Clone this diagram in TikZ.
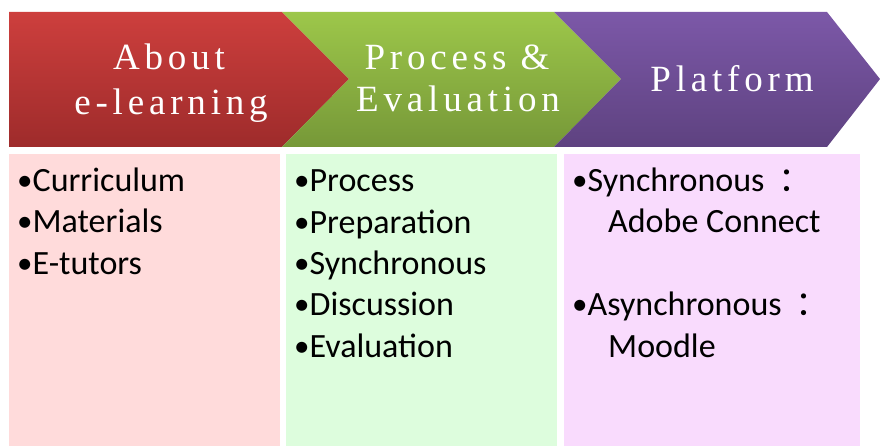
\documentclass[tikz,border=0pt]{standalone}
\usepackage{fontspec}
\setmainfont{Carlito}
\newfontfamily\headfont[LetterSpace=13]{Liberation Serif}
\newfontfamily\cjk{Noto Sans CJK SC}
\usetikzlibrary{positioning}
\definecolor{redtop}{RGB}{205,63,61}
\definecolor{redbot}{RGB}{158,43,43}
\definecolor{greentop}{RGB}{157,199,74}
\definecolor{greenbot}{RGB}{118,152,56}
\definecolor{purpletop}{RGB}{124,88,168}
\definecolor{purplebot}{RGB}{94,66,128}
\definecolor{redlight}{RGB}{255,219,219}
\definecolor{greenlight}{RGB}{221,253,221}
\definecolor{purplelight}{RGB}{249,219,253}
\newcommand{\bul}{{\fontsize{31}{31}\selectfont\raisebox{1pt}{•}}}

\begin{document}
\begin{tikzpicture}[x=1pt,y=-1pt,
    head/.style={text=white,font=\headfont\fontsize{37}{45}\selectfont,anchor=base,inner sep=0pt},
    item/.style={font=\fontsize{34}{41}\selectfont,anchor=base west,inner sep=0pt}]
    \useasboundingbox (0,0) rectangle (880,446);

    % Chevrons
    \shade[top color=redtop,bottom color=redbot]
        (9,12) -- (282,12) -- (349,79) -- (282,147) -- (9,147) -- cycle;
    \shade[top color=greentop,bottom color=greenbot]
        (282,12) -- (554,12) -- (621,79) -- (554,147) -- (282,147) -- (349,79) -- cycle;
    \shade[top color=purpletop,bottom color=purplebot]
        (554,12) -- (827,12) -- (880,79) -- (827,147) -- (554,147) -- (621,79) -- cycle;

    \node[head] (about) at (169,70) {About};
    \node[head] (elearn) at (171,115) {e-learning};
    \node[head] (process) at (457,70) {Process \&};
    \node[head] (eval) at (458,112) {Evaluation};
    \node[head] (platform) at (732,92) {Platform};

    % Boxes
    \fill[redlight] (9,154) rectangle (280,446);
    \fill[greenlight] (286,154) rectangle (557,446);
    \fill[purplelight] (564,154) rectangle (860,446);

    % Lists
    \foreach \t [count=\i] in {Curriculum,Materials,E-tutors}
        \node[item] (a\i) at (17,{192+41*(\i-1)}) {\bul\t};
    \foreach \t [count=\i] in {Process,Preparation,Synchronous,Discussion,Evaluation}
        \node[item] (p\i) at (294,{192+41.3*(\i-1)}) {\bul\t};

    \node[item] (sync) at (572,192) {\bul Synchronous\hspace{6pt} {\cjk ：}};
    \node[item] (adobe) at (608,233) {Adobe Connect};
    \node[item] (async) at (572,315) {\bul Asynchronous\hspace{6pt} {\cjk ：}};
    \node[item] (moodle) at (608,357) {Moodle};
\end{tikzpicture}
\end{document}
